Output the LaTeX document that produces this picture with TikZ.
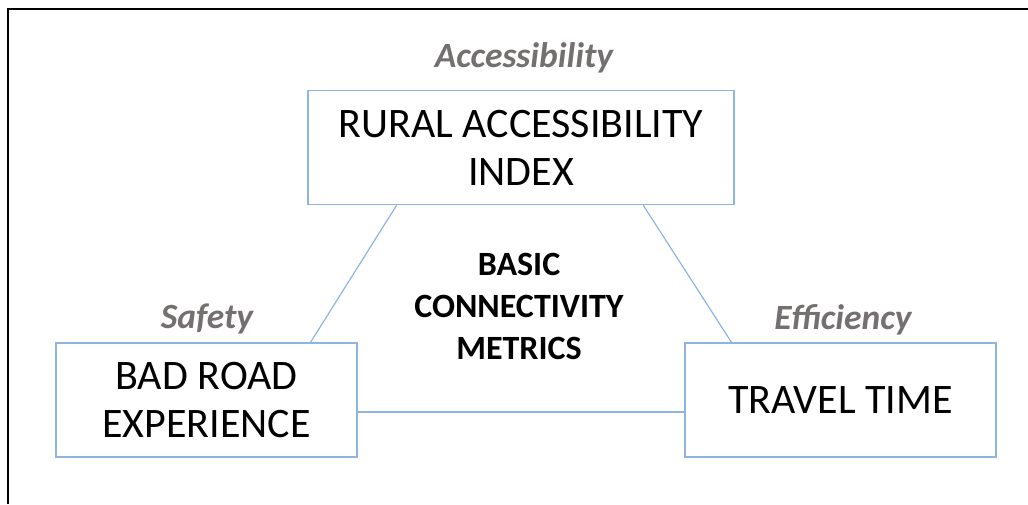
\documentclass[tikz,border=0pt]{standalone}
\usepackage{fontspec}
\setmainfont{Carlito}
\usetikzlibrary{calc}
\definecolor{boxblue}{RGB}{141,180,226}
\definecolor{taggray}{RGB}{117,112,112}

\begin{document}
\begin{tikzpicture}[x=1pt,y=-1pt]
\tikzstyle{every node}=[inner sep=0pt, align=center]
\tikzstyle{metric}=[draw=boxblue, line width=1.6pt, fill=white, minimum height=114pt, font=\fontsize{42}{48}\selectfont]
\tikzstyle{tag}=[text=taggray, font=\fontsize{35.5}{40}\selectfont\bfseries\itshape]
\useasboundingbox (0,0) rectangle (1028,504);
% outer frame
\draw[line width=2.5pt] (8,504) -- (8,9) -- (1028,9);
% the three metrics
\draw (521,147.5) node (rai) [metric, minimum width=426pt] {RURAL ACCESSIBILITY\\INDEX};
\draw (206.5,400) node (brx) [metric, minimum width=301pt] {BAD ROAD\\EXPERIENCE};
\draw (840.5,400) node (ttm) [metric, minimum width=311pt] {TRAVEL TIME};
% their tags
\draw (524,58) node (acc) [tag] {Accessibility};
\draw (207,319) node (saf) [tag] {Safety};
\draw (843,320) node (eff) [tag] {Efficiency};
\draw (519,306) node (core) [font=\fontsize{34}{42}\selectfont\bfseries] {BASIC\\CONNECTIVITY\\METRICS};
% triangle sides
\draw[boxblue, line width=1.2pt] ($(rai.south west)!0.209!(rai.south east)$) -- ($(brx.north west)!0.844!(brx.north east)$);
\draw[boxblue, line width=1.2pt] ($(rai.south west)!0.786!(rai.south east)$) -- ($(ttm.north west)!0.151!(ttm.north east)$);
\draw[boxblue, line width=1.2pt] ([yshift=-12pt]brx.east) -- ([yshift=-12pt]ttm.west);
\end{tikzpicture}
\end{document}
